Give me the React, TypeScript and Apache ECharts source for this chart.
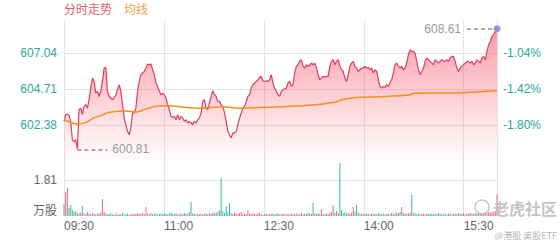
import React, { useEffect, useRef } from "react";
import * as echarts from "echarts";

// ---- data ----
const legendNames = ["分时走势", "均线"];
const sessionStartMinute = 9 * 60 + 30; // 09:30
const sessionMinutes = 390; // 09:30 - 16:00
const timeTickInterval = 90;
const priceTicks = [602.38, 604.71, 607.04];
const priceAxisTop = 609.18;
const preClose = 613.42;
const volumeTick = 1.81;
const volumeAxisTop = 2.816;

const prices = [
  602.62, 603.05, 603.09, 603.0, 602.62, 601.43, 601.28, 601.43, 600.81, 603.37,
  603.48, 603.05, 603.59, 603.7, 603.48, 604.02, 604.77, 605.42, 605.2, 604.45,
  604.56, 604.23, 604.56, 605.2, 606.07, 606.11, 604.56, 604.23, 604.13, 604.02,
  604.13, 604.34, 604.67, 604.99, 604.56, 603.7, 602.83, 602.4, 601.97, 601.75,
  602.19, 603.16, 603.16, 603.48, 604.56, 605.2, 605.64, 605.75, 605.85, 606.07,
  606.33, 606.28, 606.33, 605.96, 605.64, 605.1, 604.88, 604.56, 604.34, 604.45,
  604.34, 604.13, 603.7, 603.37, 602.94, 602.87, 602.94, 602.72, 603.05, 602.72,
  602.94, 602.83, 602.62, 602.72, 602.51, 602.62, 602.51, 602.4, 602.62, 602.51,
  602.72, 602.83, 603.16, 603.91, 604.02, 603.48, 603.37, 603.8, 604.23, 604.6,
  604.34, 604.23, 603.91, 603.91, 603.7, 603.59, 603.16, 602.62, 601.97, 601.75,
  601.54, 601.86, 601.86, 601.97, 602.4, 602.83, 603.16, 603.48, 603.59, 603.91,
  604.23, 604.34, 604.77, 604.99, 605.1, 605.2, 605.31, 605.47, 605.53, 605.25,
  605.2, 605.25, 605.2, 605.31, 605.64, 605.1, 604.77, 604.56, 604.34, 604.23,
  604.56, 604.67, 604.73, 604.77, 605.1, 605.2, 604.88, 604.99, 605.75, 606.18,
  606.28, 606.5, 606.61, 606.18, 606.07, 606.28, 606.18, 606.28, 606.39, 606.28,
  606.39, 606.07, 605.64, 605.31, 605.42, 605.53, 605.47, 605.53, 605.53, 606.18,
  606.5, 606.61, 606.28, 606.5, 606.61, 606.18, 605.96, 605.85, 605.42, 605.2,
  605.64, 606.18, 606.39, 606.5, 606.18, 606.07, 605.85, 605.96, 606.07, 606.07,
  606.18, 606.07, 606.11, 605.96, 606.07, 605.75, 605.96, 605.85, 605.31, 604.88,
  604.77, 604.88, 604.82, 604.99, 604.88, 605.1, 605.31, 605.75, 606.28, 606.39,
  606.18, 606.07, 606.18, 605.96, 606.07, 606.39, 606.93, 607.25, 607.15, 607.15,
  607.04, 606.5, 605.96, 605.64, 605.85, 606.07, 606.5, 606.72, 606.61, 606.5,
  606.39, 606.28, 606.61, 606.5, 606.39, 606.5, 606.61, 606.54, 606.5, 606.61,
  606.5, 606.72, 606.82, 606.82, 606.5, 606.07, 605.85, 606.07, 606.18, 606.28,
  606.39, 606.5, 606.5, 606.39, 606.5, 606.28, 606.39, 606.61, 606.5, 606.39,
  606.72, 606.82, 606.61, 607.15, 607.58, 607.79, 608.12, 608.23, 608.44, 608.61,
];

const avgTimes = [0, 5, 12, 20, 26, 35, 41, 56, 65, 75, 86, 95, 104, 122, 143, 158, 176, 194, 224, 246, 249, 267, 285, 311, 315, 357, 390];
const avgValues = [
  602.72, 602.58, 602.45, 602.55, 602.81, 603.05, 603.2, 603.29, 603.22, 603.44,
  603.63, 603.63, 603.56, 603.46, 603.56, 603.46, 603.52, 603.56, 603.67, 603.89,
  604.0, 604.17, 604.21, 604.32, 604.43, 604.47, 604.6,
];

const volumes = [
  0.6, 1.21, 1.41, 0.4, 0.55, 0.3, 0.2, 0.25, 0.15, 0.12,
  0.18, 0.5, 0.14, 0.1, 0.22, 0.12, 0.09, 0.15, 0.11, 0.08,
  0.13, 0.1, 0.18, 0.85, 0.2, 0.12, 0.08, 0.1, 0.14, 0.07,
  0.09, 0.12, 0.06, 0.1, 0.08, 0.15, 0.07, 0.09, 0.11, 0.06,
  0.1, 0.08, 0.12, 0.09, 0.14, 0.1, 0.12, 0.16, 0.1, 0.45,
  0.12, 0.09, 0.15, 0.08, 0.11, 0.13, 0.07, 0.1, 0.12, 0.09,
  0.14, 0.1, 0.08, 0.12, 0.18, 0.11, 0.09, 0.13, 0.1, 0.08,
  0.12, 0.09, 0.15, 0.1, 0.13, 0.2, 0.7, 0.14, 0.1, 0.08,
  0.11, 0.09, 0.13, 0.07, 0.1, 0.12, 0.08, 0.14, 0.11, 0.16,
  0.12, 0.18, 0.22, 0.3, 1.91, 0.25, 0.15, 0.5, 0.2, 0.65,
  0.14, 0.1, 0.18, 0.12, 0.09, 0.15, 0.2, 0.11, 0.13, 0.1,
  0.3, 0.12, 0.09, 0.14, 0.1, 0.08, 0.12, 0.16, 0.09, 0.07,
  0.1, 0.13, 0.08, 0.11, 0.09, 0.12, 0.07, 0.1, 0.14, 0.08,
  0.09, 0.12, 0.1, 0.07, 0.11, 0.08, 0.13, 0.09, 0.1, 0.12,
  0.08, 0.11, 0.14, 0.09, 0.12, 0.1, 0.16, 0.13, 0.11, 0.65,
  0.12, 0.1, 0.15, 0.09, 0.35, 0.11, 0.08, 0.13, 0.1, 0.14,
  0.2, 0.55, 0.18, 0.25, 0.15, 2.66, 0.3, 0.14, 0.2, 0.12,
  0.15, 0.1, 0.18, 0.45, 0.22, 0.55, 0.16, 0.12, 0.09, 0.11,
  0.08, 0.12, 0.1, 0.07, 0.13, 0.09, 0.11, 0.08, 0.14, 0.1,
  0.09, 0.12, 0.08, 0.11, 0.1, 0.07, 0.15, 0.09, 0.12, 0.18,
  0.14, 0.2, 0.45, 0.16, 0.12, 0.1, 0.13, 0.18, 1.06, 0.15,
  0.12, 0.09, 0.11, 0.08, 0.13, 0.1, 0.07, 0.12, 0.09, 0.11,
  0.1, 0.08, 0.12, 0.09, 0.14, 0.1, 0.11, 0.08, 0.13, 0.09,
  0.11, 0.13, 0.08, 0.1, 0.12, 0.09, 0.14, 0.11, 0.1, 0.12,
  0.09, 0.13, 0.11, 0.15, 0.1, 0.12, 0.14, 0.11, 0.16, 0.13,
  0.15, 0.12, 0.18, 0.14, 0.2, 0.16, 0.22, 0.18, 0.25, 1.1,
];

// ---- styles ----
const FONT = "'Liberation Sans', Arial, 'Noto Sans CJK SC', sans-serif";
const GRID_LINE = "#e4e4e4";
const TEAL = "#2aa99b";
const LINE_RED = "#e23c5c";
const ORANGE = "#f5901f";
const UP_RED = "#f06a80";
const DOWN_TEAL = "#33bda9";

function fmtTime(v: number) {
  const t = sessionStartMinute + Math.round(v);
  const h = Math.floor(t / 60);
  const m = t % 60;
  return `${h < 10 ? "0" : ""}${h}:${m < 10 ? "0" : ""}${m}`;
}

export default function App() {
  const ref = useRef<HTMLDivElement>(null);

  useEffect(() => {
    document.body.style.margin = "0";
    const chart = echarts.init(ref.current!, null, { renderer: "svg" });

    const step = sessionMinutes / (prices.length - 1);
    const times = prices.map((_, i) => i * step);
    const priceData = prices.map((p, i) => [times[i], p]);
    const avgData = avgTimes.map((t, i) => [t, avgValues[i]]);
    const volData = volumes.map((v, i) => ({
      value: [times[i], v],
      itemStyle: { color: i > 0 && prices[i] >= prices[i - 1] ? UP_RED : DOWN_TEAL },
    }));

    const pInterval = Math.round((priceTicks[1] - priceTicks[0]) * 100) / 100;
    const pMin = Math.round((priceTicks[0] - pInterval) * 100) / 100;
    const pMax = priceAxisTop;
    const pct = (p: number) => (p / preClose - 1) * 100;

    let minIdx = 0;
    let maxIdx = 0;
    prices.forEach((p, i) => {
      if (p < prices[minIdx]) minIdx = i;
      if (p > prices[maxIdx]) maxIdx = i;
    });
    const minT = times[minIdx];
    const maxT = times[maxIdx];
    const minV = prices[minIdx];
    const maxV = prices[maxIdx];
    const markSpan = 27;

    const labelStyle = { color: "#999", fontSize: 12, fontFamily: FONT };

    const option: any = {
      animation: false,
      textStyle: { fontFamily: FONT },
      grid: [
        { left: 64, right: 63, top: 20, height: 141 },
        { left: 64, right: 63, top: 160, height: 56 },
      ],
      xAxis: [
        {
          type: "value",
          gridIndex: 0,
          min: 0,
          max: sessionMinutes,
          interval: timeTickInterval,
          axisLine: { show: false },
          axisTick: { show: false },
          axisLabel: { show: false },
          splitLine: { show: true, lineStyle: { color: GRID_LINE, width: 1 } },
        },
        {
          type: "value",
          gridIndex: 1,
          min: 0,
          max: sessionMinutes,
          interval: timeTickInterval,
          axisLine: { show: false },
          axisTick: { show: false },
          axisLabel: {
            show: true,
            color: "#666",
            fontSize: 12,
            align: "left",
            margin: 4,
            showMaxLabel: false,
            formatter: (v: number) => fmtTime(v),
          },
          splitLine: { show: true, lineStyle: { color: GRID_LINE, width: 1 } },
        },
      ],
      yAxis: [
        {
          type: "value",
          gridIndex: 0,
          min: pMin,
          max: pMax,
          interval: pInterval,
          axisLine: { show: false },
          axisTick: { show: false },
          axisLabel: {
            color: TEAL,
            fontSize: 12,
            margin: 7,
            showMinLabel: false,
            showMaxLabel: false,
            formatter: (v: number) => v.toFixed(2),
          },
          splitLine: {
            show: true,
            showMinLine: false,
            showMaxLine: false,
            lineStyle: { color: GRID_LINE, width: 1 },
          },
        },
        {
          type: "value",
          gridIndex: 0,
          position: "right",
          min: pct(pMin),
          max: pct(pMax),
          interval: (pInterval / preClose) * 100,
          axisLine: { show: false },
          axisTick: { show: false },
          axisLabel: {
            color: TEAL,
            fontSize: 12,
            margin: 6,
            showMinLabel: false,
            showMaxLabel: false,
            formatter: (v: number) => v.toFixed(2) + "%",
          },
          splitLine: { show: false },
        },
        {
          type: "value",
          gridIndex: 1,
          min: 0,
          max: volumeAxisTop,
          interval: volumeTick,
          axisLine: { show: false },
          axisTick: { show: false },
          axisLabel: {
            color: "#666",
            fontSize: 12,
            margin: 7,
            showMaxLabel: false,
            formatter: (v: number) => (v === 0 ? "{u|万股}" : v.toFixed(2)),
            rich: { u: { color: "#666", fontSize: 12, padding: [0, 0, 10, 0] } },
          },
          splitLine: {
            show: true,
            showMinLine: false,
            showMaxLine: false,
            lineStyle: { color: GRID_LINE, width: 1 },
          },
        },
      ],
      series: [
        {
          name: legendNames[0],
          type: "line",
          xAxisIndex: 0,
          yAxisIndex: 0,
          data: priceData,
          showSymbol: false,
          lineStyle: { color: LINE_RED, width: 1.2 },
          itemStyle: { color: LINE_RED },
          areaStyle: {
            color: new echarts.graphic.LinearGradient(0, 0, 0, 1, [
              { offset: 0, color: "rgba(242, 70, 95, 0.78)" },
              { offset: 0.55, color: "rgba(245, 90, 110, 0.38)" },
              { offset: 1, color: "rgba(250, 120, 135, 0.04)" },
            ]),
          },
          markLine: {
            silent: true,
            symbol: ["none", "none"],
            lineStyle: { color: "#8f8f9c", width: 1.5, type: [4, 3] },
            data: [
              [
                {
                  coord: [minT, minV],
                  label: { show: true, position: "end", distance: 5, formatter: minV.toFixed(2), ...labelStyle },
                },
                { coord: [minT + markSpan, minV] },
              ],
              [
                {
                  coord: [maxT - markSpan, maxV],
                  label: { show: true, position: "start", distance: 6, formatter: maxV.toFixed(2), ...labelStyle },
                },
                { coord: [maxT, maxV] },
              ],
            ],
          },
          markPoint: {
            silent: true,
            symbol: "circle",
            symbolSize: 7,
            itemStyle: { color: "#a48ed6" },
            label: { show: false },
            data: [{ coord: [maxT, maxV] }],
          },
          z: 2,
        },
        {
          name: legendNames[1],
          type: "line",
          xAxisIndex: 0,
          yAxisIndex: 0,
          data: avgData,
          showSymbol: false,
          smooth: 0.3,
          lineStyle: { color: ORANGE, width: 1.5 },
          itemStyle: { color: ORANGE },
          z: 3,
        },
        {
          name: "成交量",
          type: "bar",
          xAxisIndex: 1,
          yAxisIndex: 2,
          data: volData,
          barWidth: 1,
        },
      ],
      graphic: [
        {
          type: "text",
          left: 64,
          top: 4,
          style: { text: legendNames[0], fill: "#e35a78", font: `12px ${FONT}` },
        },
        {
          type: "text",
          left: 124,
          top: 4,
          style: { text: legendNames[1], fill: "#f2a04a", font: `12px ${FONT}` },
        },
        {
          type: "circle",
          shape: { cx: 482, cy: 207, r: 7 },
          style: { fill: "none", stroke: "rgba(185,185,185,0.8)", lineWidth: 1.5 },
          z: 10,
        },
        {
          type: "text",
          x: 493,
          y: 208,
          style: {
            text: "老虎社区",
            fill: "rgba(185,185,185,0.85)",
            font: `bold 16px 'Noto Sans CJK SC', sans-serif`,
            verticalAlign: "middle",
          },
          z: 10,
        },
        {
          type: "text",
          x: 557,
          y: 235,
          style: {
            text: "@港股 美股ETF",
            fill: "rgba(160,160,160,0.8)",
            font: `9px 'Noto Sans CJK SC', sans-serif`,
            align: "right",
            verticalAlign: "middle",
          },
          z: 10,
        },
      ],
    };

    chart.setOption(option);
    return () => chart.dispose();
  }, []);

  return <div ref={ref} style={{ width: 560, height: 240 }} />;
}
